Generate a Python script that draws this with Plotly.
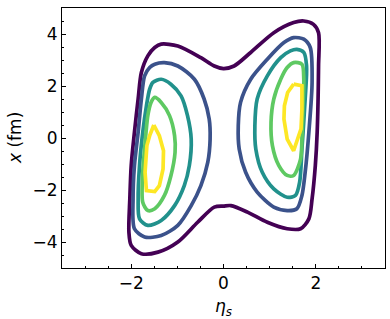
import plotly.graph_objects as go

# Contour lines: (eta_s, x) points, one closed loop each
colors = ["#440154", "#3b528b", "#21918c", "#5ec962", "#fde725"]

l1_eta = [-1.35, -0.99, -0.49, -0.20, 0.0, 0.23, 0.59, 1.09, 1.52, 1.74, 1.95, 2.06, 2.06, 2.03, 1.99, 1.92, 1.85, 1.67, 1.38, 0.95, 0.52, 0.16, 0.0, -0.20, -0.56, -0.99, -1.42, -1.78, -2.00, -2.05, -2.03, -2.00, -1.93, -1.85, -1.78, -1.64, -1.49, -1.35]
l1_x = [3.61, 3.54, 3.09, 2.77, 2.67, 2.77, 3.29, 4.05, 4.44, 4.50, 4.37, 4.05, 2.77, 0.22, -1.06, -2.34, -3.11, -3.49, -3.49, -3.24, -2.85, -2.60, -2.62, -2.66, -3.24, -4.00, -4.39, -4.45, -4.13, -3.62, -2.34, -1.06, 0.22, 1.50, 2.52, 3.16, 3.48, 3.61]

l2a_eta = [-1.49, -1.28, -0.99, -0.63, -0.42, -0.31, -0.29, -0.34, -0.49, -0.70, -0.99, -1.35, -1.71, -1.93, -1.96, -1.93, -1.85, -1.78, -1.71, -1.60, -1.49]
l2a_x = [2.84, 2.90, 2.77, 2.26, 1.50, 0.73, -0.04, -0.93, -1.83, -2.60, -3.36, -3.75, -3.81, -3.49, -2.34, -1.06, 0.22, 1.50, 2.39, 2.71, 2.84]
l2b_eta = [1.31, 1.52, 1.74, 1.88, 1.92, 1.85, 1.77, 1.70, 1.59, 1.38, 1.09, 0.73, 0.48, 0.34, 0.32, 0.37, 0.59, 0.95, 1.31]
l2b_x = [3.67, 3.86, 3.80, 3.48, 2.14, 0.22, -1.32, -2.21, -2.72, -2.79, -2.66, -2.08, -1.32, -0.42, 0.47, 1.37, 2.26, 3.03, 3.67]

l3a_eta = [-1.53, -1.35, -1.14, -0.92, -0.78, -0.70, -0.74, -0.85, -1.06, -1.35, -1.64, -1.82, -1.85, -1.82, -1.75, -1.67, -1.60, -1.53]
l3a_x = [2.14, 2.26, 2.07, 1.62, 0.86, -0.04, -1.06, -1.83, -2.60, -3.17, -3.36, -3.11, -2.34, -1.06, 0.22, 1.24, 1.88, 2.14]
l3b_eta = [1.45, 1.59, 1.74, 1.80, 1.77, 1.70, 1.65, 1.56, 1.38, 1.09, 0.84, 0.70, 0.68, 0.73, 0.95, 1.24, 1.45]
l3b_x = [3.35, 3.41, 3.29, 2.77, 1.50, -0.42, -1.70, -2.21, -2.28, -1.96, -1.32, -0.42, 0.47, 1.50, 2.39, 3.09, 3.35]

l4a_eta = [-1.49, -1.35, -1.17, -1.06, -1.05, -1.14, -1.28, -1.49, -1.64, -1.75, -1.75, -1.71, -1.64, -1.57, -1.49]
l4a_x = [1.56, 1.37, 0.86, 0.09, -0.55, -1.45, -2.21, -2.72, -2.79, -2.47, -1.32, -0.42, 0.86, 1.37, 1.56]
l4b_eta = [1.38, 1.52, 1.70, 1.74, 1.72, 1.70, 1.67, 1.52, 1.38, 1.20, 1.06, 1.03, 1.09, 1.24, 1.38]
l4b_x = [2.71, 2.90, 2.84, 2.26, 1.11, -0.04, -0.81, -1.44, -1.44, -1.06, -0.29, 0.60, 1.50, 2.26, 2.71]

l5a_eta = [-1.51, -1.39, -1.30, -1.31, -1.39, -1.49, -1.67, -1.70, -1.66, -1.60, -1.51]
l5a_x = [0.50, 0.09, -0.49, -1.19, -1.83, -2.06, -2.02, -1.32, -0.29, 0.09, 0.50]
l5b_eta = [1.52, 1.70, 1.70, 1.68, 1.52, 1.38, 1.31, 1.32, 1.39, 1.52]
l5b_x = [2.07, 2.01, 1.11, 0.35, -0.49, -0.04, 0.73, 1.24, 1.75, 2.07]

x_ticks = [-2, 0, 2]
x_ticklabels = ["\u22122", "0", "2"]
y_ticks = [-4, -2, 0, 2, 4]
y_ticklabels = ["\u22124", "\u22122", "0", "2", "4"]

loops = [
    (l1_eta, l1_x, 0), (l2a_eta, l2a_x, 1), (l2b_eta, l2b_x, 1),
    (l3a_eta, l3a_x, 2), (l3b_eta, l3b_x, 2), (l4a_eta, l4a_x, 3),
    (l4b_eta, l4b_x, 3), (l5a_eta, l5a_x, 4), (l5b_eta, l5b_x, 4),
]

fig = go.Figure()
for ex, xx, lv in loops:
    fig.add_trace(go.Scatter(
        x=ex, y=xx, mode="lines",
        line=dict(color=colors[lv], width=3.7,
                  shape="linear" if lv == 4 else "spline", smoothing=0.8),
        showlegend=False, hoverinfo="skip"))

font = dict(family="DejaVu Sans", size=17, color="black")
axis_common = dict(showline=True, linecolor="black", linewidth=1, mirror=True,
                   ticks="inside", ticklen=4, tickwidth=1, tickcolor="black",
                   showgrid=False, zeroline=False, tickfont=font, automargin=False,
                   minor=dict(ticks="inside", ticklen=2, tickwidth=1, tickcolor="black", dtick=0.5))
fig.update_xaxes(range=[-3.5, 3.5], tickvals=x_ticks, ticktext=x_ticklabels, **axis_common)
fig.update_yaxes(range=[-5, 5], tickvals=y_ticks, ticktext=y_ticklabels, **axis_common)

fig.add_annotation(text="<i>\u03b7</i><sub><i>s</i></sub>", xref="paper", yref="paper",
                   x=0.5, y=0, xanchor="center", yanchor="middle", yshift=-39,
                   showarrow=False, font=font)
fig.add_annotation(text="<i>x</i> (fm)", xref="paper", yref="paper",
                   x=0, y=0.5, xanchor="center", yanchor="middle", xshift=-47,
                   textangle=-90, showarrow=False, font=font)

fig.update_layout(width=390, height=319, margin=dict(l=62, r=5, t=8, b=51),
                  plot_bgcolor="white", paper_bgcolor="white", font=font)
fig.write_html("out.html", config={"displayModeBar": False},
               post_script="document.body.style.margin='0';document.body.style.overflow='hidden';")
